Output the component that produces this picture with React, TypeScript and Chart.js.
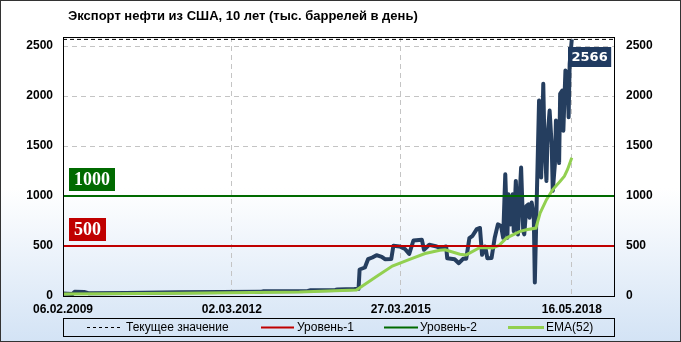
import React, { useEffect, useRef } from "react";
import { Chart, registerables } from "chart.js";

Chart.register(...registerables);

const TITLE = "Экспорт нефти из США, 10 лет (тыс. баррелей в день)";

// x axis: week index since 06.02.2009
const tickWeeks = [0, 160, 320, 482];
const tickLabels = ["06.02.2009", "02.03.2012", "27.03.2015", "16.05.2018"];
const xMaxWeek = 522;

const yTickValues = [0, 500, 1000, 1500, 2000, 2500];
const yMax = 2590;

const exportWeeks = [
  0, 9, 11, 20, 24, 60, 110, 150, 188, 190, 232, 234, 258, 260, 276, 280,
  281, 286, 289, 293, 297, 302, 305, 311, 313, 319, 324, 328, 332, 340, 342,
  347, 354, 357, 363, 364, 371, 375, 379, 382, 385, 388, 392, 395, 397, 400,
  402, 406, 409, 412, 415, 417, 419, 421, 422, 424, 426, 427, 429, 431, 433,
  434, 436, 437, 439, 441, 442, 444, 446, 447, 451, 452, 453, 455, 456, 458,
  459, 461, 463, 464, 466, 467, 469, 470, 471, 473, 474, 476, 478, 479, 480,
  482,
];
const exportValues = [
  25, 20, 42, 40, 28, 30, 38, 40, 42, 48, 50, 57, 60, 66, 70, 72,
  265, 285, 368, 385, 408, 391, 368, 370, 502, 496, 470, 421, 555, 562, 462,
  512, 495, 478, 495, 378, 368, 328, 372, 372, 579, 602, 669, 680, 412, 495,
  378, 380, 582, 716, 700, 582, 1218, 582, 1017, 716, 1017, 649, 1151, 616, 1084,
  1285, 649, 616, 900, 917, 783, 934, 800, 135, 1955, 1921, 1185, 2122, 1586, 1151,
  1586, 1854, 1500, 1051, 1318, 1754, 1486, 1330, 2021, 2055, 1653, 2256, 2189, 1787, 2322,
  2566,
];

const emaWeeks = [
  0, 111, 224, 278, 297, 312, 329, 343, 357, 362, 376, 382, 395, 407, 413,
  420, 433, 439, 448, 452, 458, 464, 471, 475, 478, 482,
];
const emaValues = [
  20, 27, 40, 60, 194, 300, 368, 425, 458, 462, 418, 411, 485, 480, 505,
  579, 646, 663, 679, 830, 964, 1064, 1148, 1198, 1265, 1382,
];

const currentValue = 2566;
const level1 = 500;
const level2 = 1000;
const legendLabels = ["Текущее значение", "Уровень-1", "Уровень-2", "EMA(52)"];

const NAVY = "#253e5f";
const RED = "#c00000";
const GREEN = "#006a00";
const LIME = "#92d050";
const SANS = "'Liberation Sans', Arial, sans-serif";

const decor = {
  id: "decor",
  beforeDraw(chart: any) {
    const { ctx, width, height } = chart;
    const g = ctx.createLinearGradient(0, 0, 0, height);
    g.addColorStop(0, "#ffffff");
    g.addColorStop(0.55, "#ffffff");
    g.addColorStop(1, "#d3e3f5");
    ctx.save();
    ctx.fillStyle = g;
    ctx.fillRect(0, 0, width, height);
    ctx.restore();
  },
  afterDatasetsDraw(chart: any) {
    const { ctx, chartArea: a, scales } = chart;
    const xs = scales.x;
    const ys = scales.y;
    ctx.save();
    ctx.strokeStyle = "#000";
    ctx.lineWidth = 1;
    ctx.setLineDash([]);
    const l = Math.floor(a.left) + 0.5;
    const t = Math.floor(a.top) + 0.5;
    const r = Math.floor(a.right) + 0.5;
    const b = Math.floor(a.bottom) + 0.5;
    ctx.strokeRect(l, t, r - l, b - t);

    const tag = (text: string, color: string, yVal: number) => {
      ctx.font = "bold 18px 'Liberation Serif', 'Times New Roman', serif";
      const w = ctx.measureText(text).width + 10;
      const h = 23;
      const yLine = ys.getPixelForValue(yVal);
      const x0 = Math.round(a.left) + 6;
      const y0 = Math.round(yLine) - 5 - h;
      ctx.fillStyle = color;
      ctx.fillRect(x0, y0, w, h);
      ctx.fillStyle = "#fff";
      ctx.textBaseline = "middle";
      ctx.textAlign = "left";
      ctx.fillText(text, x0 + 5, y0 + h / 2 + 1);
    };
    tag(String(level2), GREEN, level2);
    tag(String(level1), RED, level1);

    const lastW = exportWeeks[exportWeeks.length - 1];
    const px = xs.getPixelForValue(lastW);
    const py = ys.getPixelForValue(currentValue);
    ctx.font = "bold 13px 'DejaVu Sans', sans-serif";
    const txt = String(currentValue);
    const tw = ctx.measureText(txt).width + 7;
    const bx = Math.round(px) - 4;
    const by = Math.round(py) + 8;
    ctx.fillStyle = "#1f3a60";
    ctx.fillRect(bx, by, tw, 20);
    ctx.fillStyle = "#fff";
    ctx.textBaseline = "middle";
    ctx.textAlign = "left";
    ctx.fillText(txt, bx + 3.5, by + 10.5);
    ctx.restore();
  },
  afterDraw(chart: any) {
    const { ctx, width, height } = chart;
    ctx.save();
    ctx.fillStyle = "#000";
    ctx.font = `bold 13px ${SANS}`;
    ctx.textBaseline = "middle";
    ctx.textAlign = "left";
    ctx.fillText(TITLE, 68, 16);

    const lx = 63.5, ly = 318.5, lw = 551, lh = 18;
    ctx.strokeStyle = "#000";
    ctx.lineWidth = 1;
    ctx.strokeRect(lx, ly, lw, lh);
    const cy = 327.5;
    ctx.font = `12px ${SANS}`;
    ctx.fillStyle = "#000";
    ctx.setLineDash([3, 3]);
    ctx.lineWidth = 1;
    ctx.beginPath();
    ctx.moveTo(87, cy);
    ctx.lineTo(123, cy);
    ctx.stroke();
    ctx.setLineDash([]);
    ctx.fillText(legendLabels[0], 126, cy + 0.5);
    const seg = (x1: number, x2: number, color: string, lw2: number) => {
      ctx.strokeStyle = color;
      ctx.lineWidth = lw2;
      ctx.beginPath();
      ctx.moveTo(x1, cy);
      ctx.lineTo(x2, cy);
      ctx.stroke();
    };
    seg(261, 294, RED, 2);
    ctx.fillText(legendLabels[1], 297, cy + 0.5);
    seg(384, 418, GREEN, 2);
    ctx.fillText(legendLabels[2], 420, cy + 0.5);
    seg(508, 544, LIME, 3);
    ctx.fillText(legendLabels[3], 546, cy + 0.5);

    ctx.strokeStyle = "#333";
    ctx.lineWidth = 1;
    ctx.strokeRect(0.5, 0.5, width - 1, height - 1);
    ctx.restore();
  },
};

export default function App() {
  const ref = useRef<HTMLCanvasElement | null>(null);

  useEffect(() => {
    document.body.style.margin = "0";
    const canvas = ref.current;
    if (!canvas) return;

    const tickFont = { family: SANS, weight: "bold" as const, size: 12 };
    const plain = (v: any) => String(v);

    const chart = new Chart(canvas, {
      type: "line",
      data: {
        datasets: [
          {
            label: legendLabels[0],
            data: [
              { x: 0, y: currentValue },
              { x: xMaxWeek, y: currentValue },
            ],
            borderColor: "#000",
            borderWidth: 1,
            borderDash: [4, 3],
            pointRadius: 0,
            order: 1,
          },
          {
            label: legendLabels[1],
            data: [
              { x: 0, y: level1 },
              { x: xMaxWeek, y: level1 },
            ],
            borderColor: RED,
            borderWidth: 2,
            pointRadius: 0,
            order: 2,
          },
          {
            label: legendLabels[2],
            data: [
              { x: 0, y: level2 },
              { x: xMaxWeek, y: level2 },
            ],
            borderColor: GREEN,
            borderWidth: 2,
            pointRadius: 0,
            order: 3,
          },
          {
            label: legendLabels[3],
            data: emaWeeks.map((w, i) => ({ x: w, y: emaValues[i] })),
            borderColor: LIME,
            borderWidth: 3,
            pointRadius: 0,
            tension: 0,
            order: 4,
          },
          {
            label: "Экспорт",
            data: exportWeeks.map((w, i) => ({ x: w, y: exportValues[i] })),
            borderColor: NAVY,
            borderWidth: 4,
            borderJoinStyle: "round",
            pointRadius: 0,
            tension: 0,
            order: 5,
          },
        ],
      },
      options: {
        responsive: false,
        animation: false,
        events: [],
        layout: { padding: { top: 37, left: 0, right: 0, bottom: 0 } },
        plugins: {
          legend: { display: false },
          title: { display: false },
          tooltip: { enabled: false },
        },
        scales: {
          x: {
            type: "linear",
            min: 0,
            max: xMaxWeek,
            afterBuildTicks: (s: any) => {
              s.ticks = tickWeeks.map((v) => ({ value: v }));
            },
            afterFit: (s: any) => {
              s.height = 46;
            },
            grid: {
              color: (c: any) =>
                c.tick && c.tick.value === 0 ? "rgba(0,0,0,0)" : "#c4c4c4",
              drawTicks: false,
            },
            border: { display: false, dash: [5, 4] },
            ticks: {
              padding: 6,
              autoSkip: false,
              maxRotation: 0,
              color: "#000",
              font: tickFont,
              callback: (v: any) => {
                const i = tickWeeks.indexOf(Number(v));
                return i >= 0 ? tickLabels[i] : "";
              },
            },
          },
          y: {
            position: "left",
            min: 0,
            max: yMax,
            afterBuildTicks: (s: any) => {
              s.ticks = yTickValues.map((v) => ({ value: v }));
            },
            afterFit: (s: any) => {
              s.width = 63;
            },
            grid: {
              color: (c: any) =>
                c.tick && c.tick.value === 0 ? "rgba(0,0,0,0)" : "#c4c4c4",
              drawTicks: false,
            },
            border: { display: false, dash: [5, 4] },
            ticks: { padding: 10, color: "#000", font: tickFont, callback: plain },
          },
          y2: {
            position: "right",
            min: 0,
            max: yMax,
            afterBuildTicks: (s: any) => {
              s.ticks = yTickValues.map((v) => ({ value: v }));
            },
            afterFit: (s: any) => {
              s.width = 67;
            },
            grid: { drawOnChartArea: false, drawTicks: false },
            border: { display: false },
            ticks: { padding: 12, color: "#000", font: tickFont, callback: plain },
          },
        },
      },
      plugins: [decor],
    } as any);

    return () => chart.destroy();
  }, []);

  return (
    <div style={{ width: 681, height: 342 }}>
      <canvas ref={ref} width={681} height={342} style={{ display: "block" }} />
    </div>
  );
}
